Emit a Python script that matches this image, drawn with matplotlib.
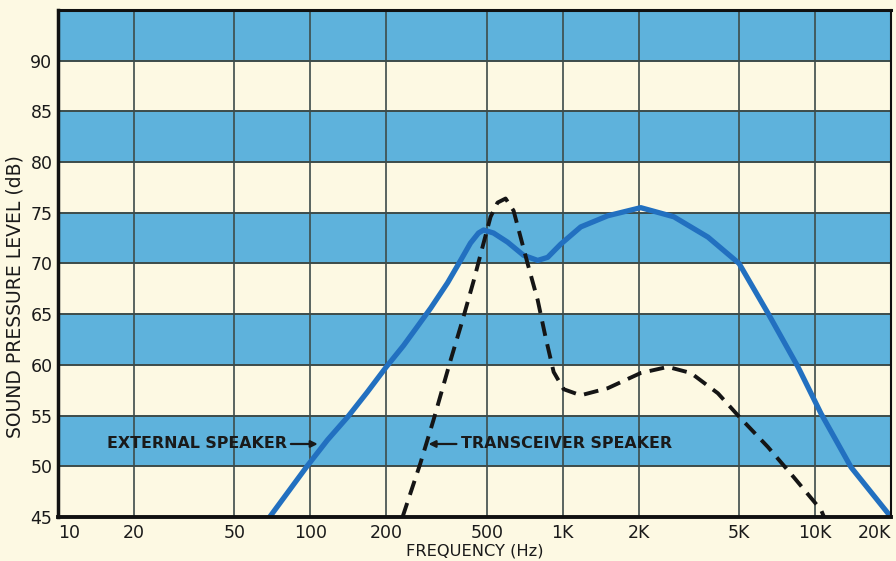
import matplotlib.pyplot as plt

# frequency ticks
x_ticks = [10, 20, 50, 100, 200, 500, 1000, 2000, 5000, 10000, 20000]
x_labels = ["10", "20", "50", "100", "200", "500", "1K", "2K", "5K", "10K", "20K"]
y_ticks = [45, 50, 55, 60, 65, 70, 75, 80, 85, 90]

# external speaker (solid blue)
ext_f = [69, 97, 117, 141, 168, 200, 234, 266, 300, 350, 394, 431, 464, 486,
         532, 605, 700, 796, 872, 982, 1179, 1509, 2039, 2758, 3763, 5000,
         6508, 8561, 10563, 13900, 20000]
ext_db = [45, 50, 52.6, 54.9, 57.3, 59.8, 61.9, 63.8, 65.6, 68.1, 70.3, 72.0, 73.0, 73.3,
          73.0, 72.1, 70.8, 70.3, 70.6, 71.9, 73.6, 74.7, 75.5, 74.6, 72.6, 70.0,
          65.1, 59.8, 55.2, 49.9, 45]

# transceiver speaker (dashed black)
trx_f = [232, 273, 308, 360, 401, 444, 481, 518, 552, 594, 639, 681, 726, 796,
         856, 921, 1009, 1179, 1509, 2039, 2610, 3221, 4122, 5000, 6508, 8252,
         10563, 10857]
trx_db = [45, 50.3, 54.6, 60.5, 64.4, 68.3, 71.6, 74.6, 76.0, 76.4, 75.2, 72.6, 70.0, 66.4,
          62.7, 59.3, 57.6, 57.0, 57.7, 59.2, 59.8, 59.2, 57.2, 54.9, 51.9, 48.9,
          45.7, 45]

cream = "#fdf9e3"
band = "#5eb2dc"
grid = "#3d4c4a"
ink = "#1a1a1a"

fig = plt.figure(figsize=(8.96, 5.61), dpi=100, facecolor=cream)
ax = fig.add_axes([0.0647, 0.0784, 0.9297, 0.904])
ax.set_facecolor(cream)
ax.set_xscale("log")
ax.set_xlim(10, 20000)
ax.set_ylim(45, 95)

for lo in [50, 60, 70, 80, 90]:
    ax.axhspan(lo, lo + 5, color=band, zorder=0, lw=0)

for f in x_ticks:
    ax.axvline(f, color=grid, lw=1.2, zorder=1)
for y in y_ticks:
    ax.axhline(y, color=grid, lw=1.4, zorder=1)

ax.plot(ext_f, ext_db, color="#2270c0", lw=3.8, solid_capstyle="round",
        solid_joinstyle="round", zorder=3)
ax.plot(trx_f, trx_db, color="#151515", lw=2.8, dashes=(3.8, 2.2),
        dash_joinstyle="round", zorder=4)

arrow = dict(arrowstyle="-|>", color=ink, lw=1.6, shrinkA=1, shrinkB=0,
             mutation_scale=10)
ax.annotate("EXTERNAL SPEAKER", xy=(107, 52.2), xytext=(15.6, 52.2),
            fontsize=11.4, fontweight="bold", color=ink, va="center",
            arrowprops=arrow, zorder=5)
ax.annotate("TRANSCEIVER SPEAKER", xy=(294, 52.2), xytext=(394, 52.2),
            fontsize=11.4, fontweight="bold", color=ink, va="center",
            arrowprops=arrow, zorder=5)

ax.set_xticks(x_ticks)
ax.set_xticklabels(x_labels)
ax.minorticks_off()
ax.set_yticks(y_ticks)
ax.tick_params(length=0, labelsize=12.5, colors=ink)
ax.tick_params(axis="x", pad=5)
ax.tick_params(axis="y", pad=4)
xl = ax.get_xticklabels()
xl[0].set_ha("left")
xl[-1].set_ha("right")

ax.set_xlabel("FREQUENCY (Hz)", fontsize=11.7, color=ink, labelpad=1)
fig.text(0.017, 0.472, "SOUND PRESSURE LEVEL (dB)", fontsize=13.5, color=ink,
         rotation=90, ha="center", va="center")

for side, w in [("left", 2.5), ("bottom", 2.8), ("top", 2.2), ("right", 1.5)]:
    ax.spines[side].set_linewidth(w)
    ax.spines[side].set_color("#111111")
    ax.spines[side].set_zorder(6)

fig.savefig("out.png", dpi=100, facecolor=cream)
